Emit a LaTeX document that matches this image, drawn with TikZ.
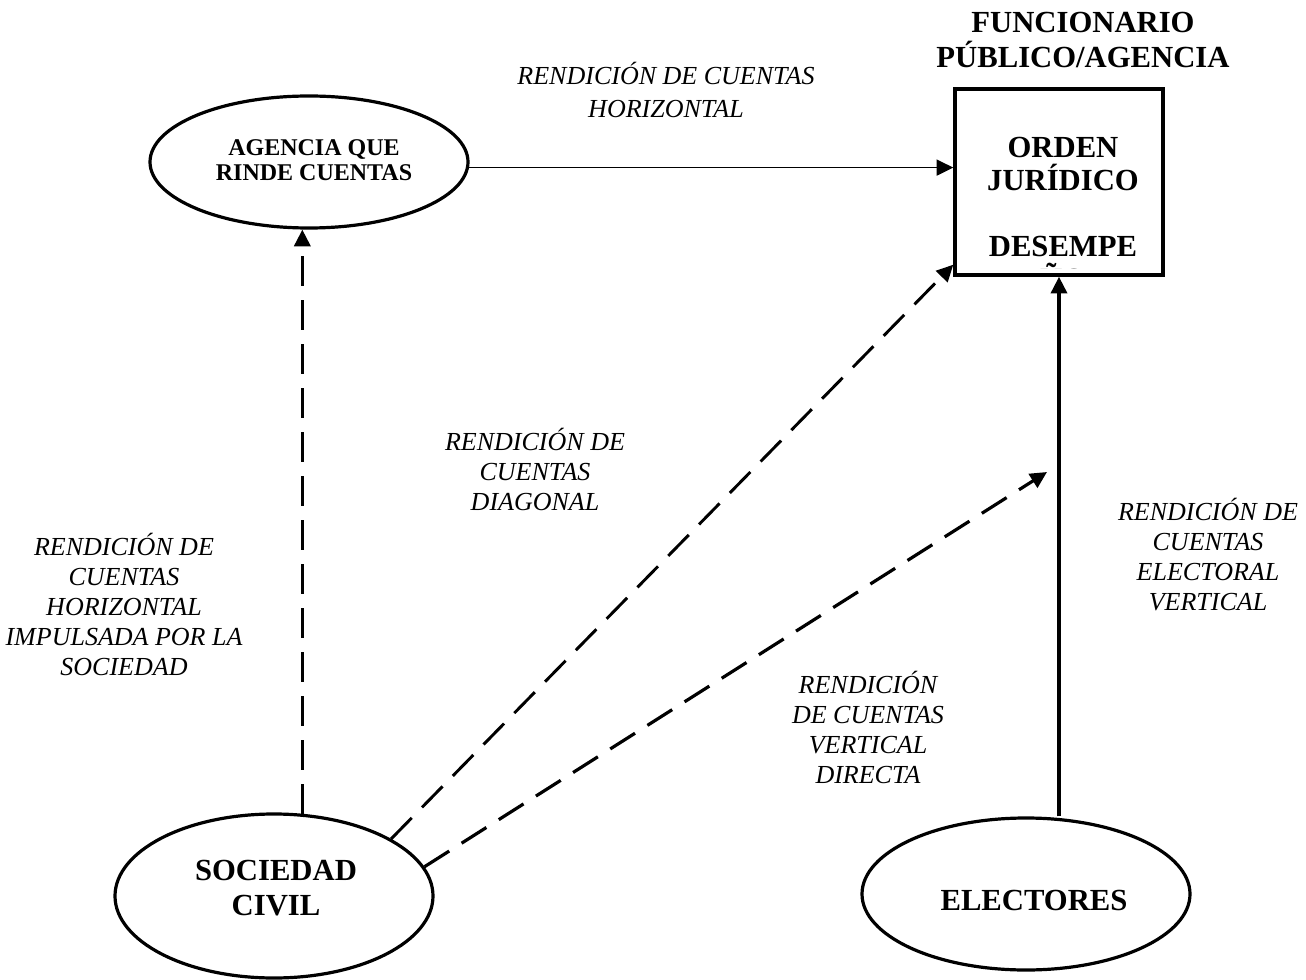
\documentclass[tikz,border=0pt]{standalone}
\usepackage{fontspec}
\setmainfont{Liberation Serif}
\usetikzlibrary{arrows.meta,shapes.geometric,calc}
\begin{document}
\begin{tikzpicture}[x=0.75pt,y=-0.75pt,
  ell/.style={draw,ellipse,line width=2.4pt,inner sep=0pt},
  boxstyle/.style={draw,rectangle,line width=2.6pt,inner sep=0pt},
  head/.style={inner sep=0pt,align=center,font=\fontsize{23}{26}\selectfont\bfseries},
  lbl/.style={inner sep=0pt,align=center,font=\fontsize{19.5}{22.5}\selectfont\itshape},
  tip/.style={-{Triangle[length=12.5pt,width=12pt]}},
  dsh/.style={dash pattern=on 22pt off 11pt},
]
\useasboundingbox (0,0) rectangle (1306,980);

% shapes
\node[ell,minimum width=238.5pt,minimum height=99pt] (ag) at (309,162) {};
\node[ell,minimum width=238.5pt,minimum height=123pt] (soc) at (274,896) {};
\node[ell,minimum width=246pt,minimum height=114pt] (el) at (1026,894) {};
\node[boxstyle,minimum width=156pt,minimum height=139.5pt] (box) at (1059,182) {};

% texts in shapes
\node[head,font=\fontsize{18}{18.75}\selectfont\bfseries] (agtxt) at (314,160) {AGENCIA QUE\\RINDE CUENTAS};
\node[head] (soctxt) at (276,888) {SOCIEDAD\\CIVIL};
\node[head] (eltxt) at (1034,900) {ELECTORES};
\begin{scope}
  \clip ($(box.south west)+(2,-8)$) rectangle ($(box.north east)+(-2,2)$);
  \node[head,font=\fontsize{23}{24.75}\selectfont\bfseries] (boxtxt) at (1063,213)
    {ORDEN\\JURÍDICO\\[24.75pt]DESEMPE\\ÑO};
\end{scope}
\node[head] (func) at (1083,40) {FUNCIONARIO\\PÚBLICO/AGENCIA};

% labels
\node[lbl,font=\fontsize{19.5}{24.75}\selectfont\itshape] (lh) at (666,89.5) {RENDICIÓN DE CUENTAS\\HORIZONTAL};
\node[lbl] (ld) at (535,469) {RENDICIÓN DE\\CUENTAS\\DIAGONAL};
\node[lbl] (ls) at (124,604) {RENDICIÓN DE\\CUENTAS\\HORIZONTAL\\IMPULSADA POR LA\\SOCIEDAD};
\node[lbl] (lv) at (868,727.5) {RENDICIÓN\\DE CUENTAS\\VERTICAL\\DIRECTA};
\node[lbl] (le) at (1208,554.5) {RENDICIÓN DE\\CUENTAS\\ELECTORAL\\VERTICAL};

% connectors
\draw[tip,line width=1.3pt] (ag.-2) -- (ag.-2 -| box.west);
\draw[tip,dsh,line width=2.6pt] (soc.71) -- (soc.71 |- ag.south);
\draw[tip,dsh,line width=2.2pt] (soc.26) -- ($(box.south west)+(0,-12)$);
\coordinate (vd) at (1047,472);
\draw[tip,dsh,line width=2.4pt] (soc.11) -- (vd);
\draw[tip,line width=2.6pt] (box.south |- el.north) -- (box.south);
\end{tikzpicture}
\end{document}
